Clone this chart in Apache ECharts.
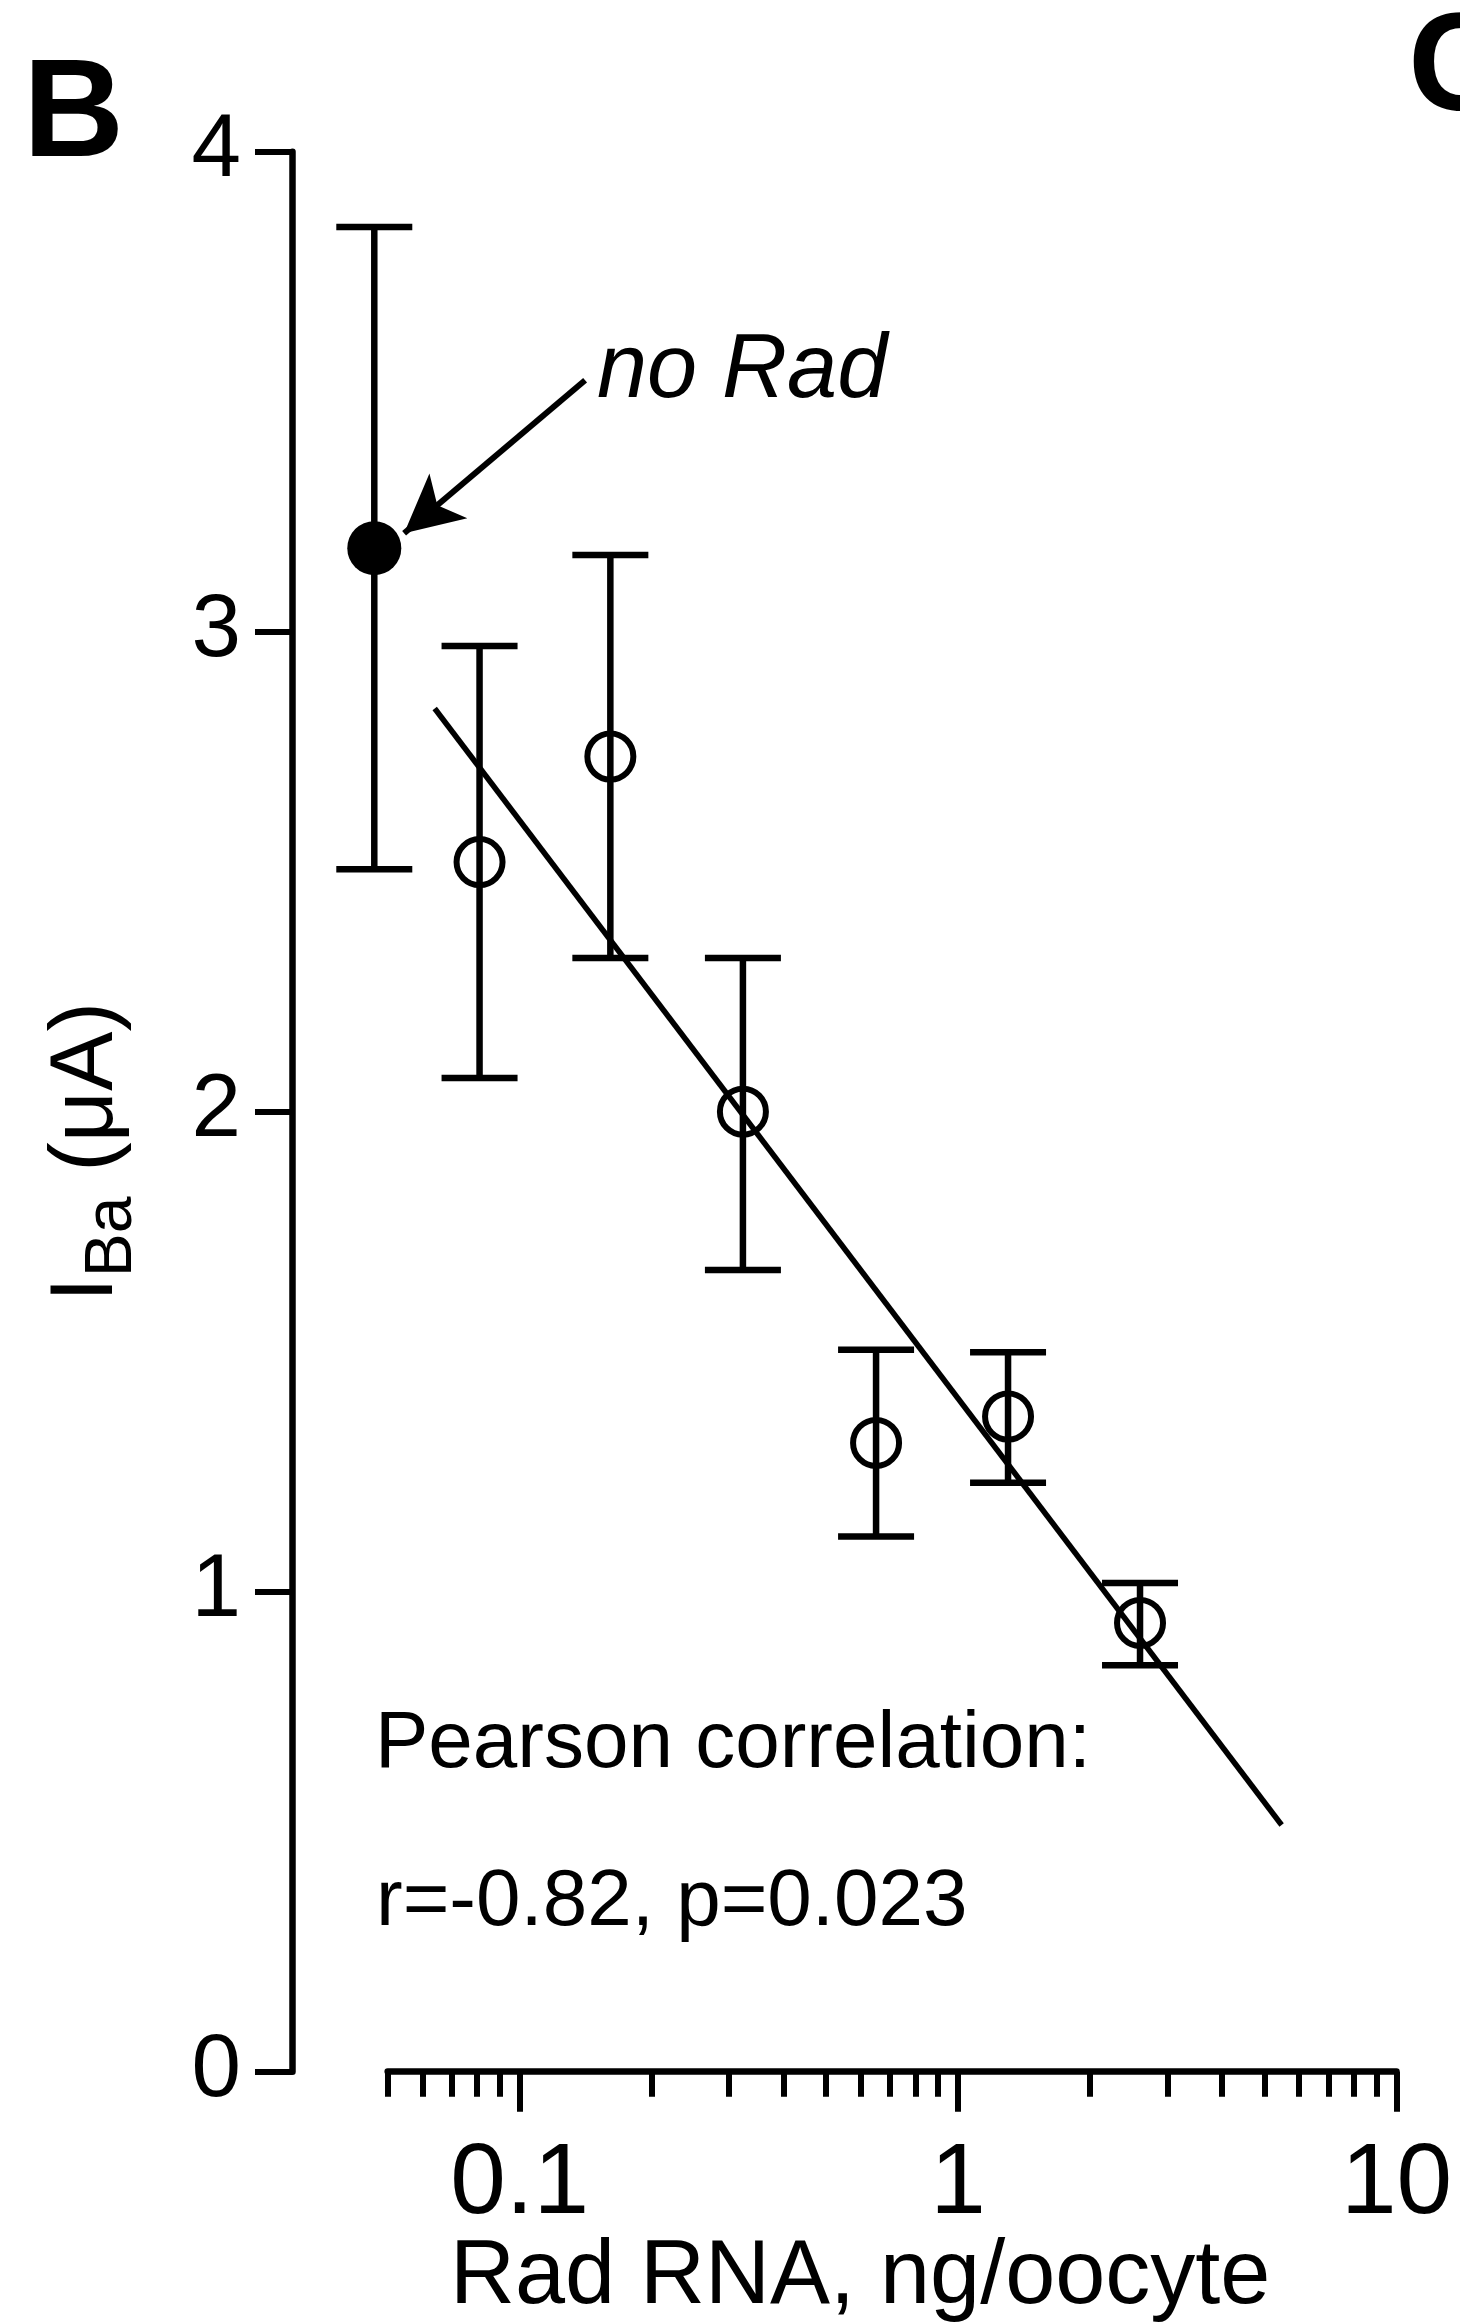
<!DOCTYPE html>
<html><head><meta charset="utf-8">
<script src="https://cdn.jsdelivr.net/npm/echarts@6/dist/echarts.min.js"></script>
<style>html,body{margin:0;padding:0;background:#fff}#c{width:1460px;height:2324px}</style>
</head><body><div id="c"></div>
<script>
// ---- data ----
const radRNA  = [0.081, 0.161, 0.323, 0.65, 1.3, 2.6];       // ng/oocyte
const iBaMean = [2.52, 2.74, 2.00, 1.31, 1.365, 0.935];      // µA
const iBaLow  = [2.07, 2.32, 1.67, 1.115, 1.227, 0.847];
const iBaHigh = [2.97, 3.16, 2.32, 1.504, 1.499, 1.018];
const noRadX    = [0.0466];   // plotted left of the axis start
const noRadMean = [3.174];
const noRadLow  = [2.505];
const noRadHigh = [3.843];
const fitX = [0.064, 5.47];
const fitY = [2.84, 0.514];
const arrowFrom = [0.141, 3.524];
const arrowTo   = [0.0545, 3.205];
const xMinorTicks = [0.05,0.06,0.07,0.08,0.09,0.2,0.3,0.4,0.5,0.6,0.7,0.8,0.9,2,3,4,5,6,7,8,9];
const xMajorTicks = [0.1, 1, 10];
const yMin = 0, yMax = 4, yStep = 1;

const FONT = "'Liberation Sans', Arial, sans-serif";
const NARROW = "'Liberation Sans Narrow', 'Arial Narrow', 'Liberation Sans', sans-serif";

const barData = noRadX.map((x,i)=>[x, noRadLow[i], noRadHigh[i]])
  .concat(radRNA.map((x,i)=>[x, iBaLow[i], iBaHigh[i]]));

const chart = echarts.init(document.getElementById('c'), null, {renderer:'canvas'});
const axisColor = '#000';
chart.setOption({
  animation: false,
  backgroundColor: '#fff',
  textStyle: {fontFamily: FONT, color: '#000'},
  grid: {left: 387.7, right: 63.5, top: 151.7, bottom: 252.3, containLabel: false, outerBoundsMode: 'none'},
  xAxis: [{
    type: 'log', logBase: 10, min: 0.05, max: 10, position: 'bottom',
    axisLine: {show: true, lineStyle: {color: axisColor, width: 6.5}},
    axisTick: {show: true, customValues: xMinorTicks, length: 25, inside: false, lineStyle: {color: axisColor, width: 6}},
    axisLabel: {show: false},
    splitLine: {show: false}, minorTick: {show: false},
    name: 'Rad RNA, ng/oocyte', nameLocation: 'middle', nameGap: 161,
    nameTextStyle: {fontSize: 90, fontFamily: FONT, color: '#000', padding: [0, 64, 0, 0], verticalAlign: 'top'}
  }, {
    type: 'log', logBase: 10, min: 0.05, max: 10, position: 'bottom', gridIndex: 0,
    axisLine: {show: false},
    axisTick: {show: true, customValues: xMajorTicks, length: 40, inside: false, lineStyle: {color: axisColor, width: 6}},
    axisLabel: {show: true, customValues: xMajorTicks, margin: 64, fontSize: 100, fontFamily: NARROW, color: '#000'},
    splitLine: {show: false}
  }],
  yAxis: {
    type: 'value', min: yMin, max: yMax, interval: yStep, offset: 95.7,
    axisLine: {show: true, lineStyle: {color: axisColor, width: 6.5}},
    axisTick: {show: true, length: 37, inside: false, lineStyle: {color: axisColor, width: 6}},
    axisLabel: {show: true, margin: 51, fontSize: 89, fontFamily: FONT, color: '#000'},
    splitLine: {show: false}
  },
  graphic: [
    {type: 'text', x: 23, y: 161 + 0.19*140, style: {text: 'B', fontSize: 140, fontWeight: 'bold', fontFamily: FONT, fill: '#000', lineHeight: 140, align: 'left', verticalAlign: 'bottom'}},
    {type: 'text', x: 1408, y: 115 + 0.19*140, style: {text: 'C', fontSize: 140, fontWeight: 'bold', fontFamily: FONT, fill: '#000', lineHeight: 140, align: 'left', verticalAlign: 'bottom'}},
    {type: 'text', x: 597, y: 400 + 0.19*90, style: {text: 'no Rad', fontSize: 90, fontStyle: 'italic', fontFamily: FONT, fill: '#000', lineHeight: 90, align: 'left', verticalAlign: 'bottom'}},
    {type: 'text', x: 375, y: 1770 + 0.19*80, style: {text: 'Pearson correlation:', fontSize: 80, fontFamily: FONT, fill: '#000', lineHeight: 80, align: 'left', verticalAlign: 'bottom'}},
    {type: 'text', x: 376, y: 1928 + 0.19*80, style: {text: 'r=-0.82, p=0.023', fontSize: 80, fontFamily: FONT, fill: '#000', lineHeight: 80, align: 'left', verticalAlign: 'bottom'}},
    {type: 'text', x: 101, y: 1152, rotation: Math.PI/2, style: {
      text: '{i|I}{s|Ba}{n| (μA)}', align: 'center', verticalAlign: 'middle', fill: '#000',
      rich: {
        i: {fontSize: 89, lineHeight: 89, fontFamily: FONT, padding: [0,0,14,0], verticalAlign: 'bottom', fill: '#000'},
        s: {fontSize: 66, lineHeight: 66, fontFamily: FONT, verticalAlign: 'bottom', fill: '#000'},
        n: {fontSize: 89, lineHeight: 89, fontFamily: FONT, padding: [0,0,14,0], verticalAlign: 'bottom', fill: '#000'}
      }
    }}
  ],
  series: [
    {
      type: 'custom', name: 'sem', xAxisIndex: 0, yAxisIndex: 0, z: 2, clip: false,
      encode: {x: 0, y: [1, 2]},
      data: barData,
      renderItem: function (params, api) {
        const x = api.value(0), lo = api.value(1), hi = api.value(2);
        const pLo = api.coord([x, lo]), pHi = api.coord([x, hi]);
        const cap = 38;
        const st = {stroke: '#000', lineWidth: 6.5, fill: null};
        return {type: 'group', children: [
          {type: 'line', shape: {x1: pLo[0], y1: pLo[1], x2: pHi[0], y2: pHi[1]}, style: st},
          {type: 'line', shape: {x1: pLo[0]-cap, y1: pLo[1], x2: pLo[0]+cap, y2: pLo[1]}, style: st},
          {type: 'line', shape: {x1: pHi[0]-cap, y1: pHi[1], x2: pHi[0]+cap, y2: pHi[1]}, style: st}
        ]};
      }
    },
    {
      type: 'line', name: 'fit', z: 3, symbol: 'none', clip: false,
      data: fitX.map((x,i)=>[x, fitY[i]]),
      lineStyle: {color: '#000', width: 5.5}
    },
    {
      type: 'scatter', name: 'Rad', z: 4, clip: false,
      data: radRNA.map((x,i)=>[x, iBaMean[i]]),
      symbol: 'circle', symbolSize: 46,
      itemStyle: {color: 'rgba(0,0,0,0)', borderColor: '#000', borderWidth: 6, opacity: 1}
    },
    {
      type: 'scatter', name: 'no Rad', z: 4, clip: false,
      data: noRadX.map((x,i)=>[x, noRadMean[i]]),
      symbol: 'circle', symbolSize: 54,
      itemStyle: {color: '#000', opacity: 1},
      markLine: {
        silent: true, animation: false, symbol: ['none', 'arrow'], symbolSize: [44, 58],
        label: {show: false}, emphasis: {disabled: true},
        lineStyle: {color: '#000', width: 6, type: 'solid', opacity: 1},
        data: [[{coord: arrowFrom}, {coord: arrowTo}]]
      }
    }
  ]
});
</script></body></html>
